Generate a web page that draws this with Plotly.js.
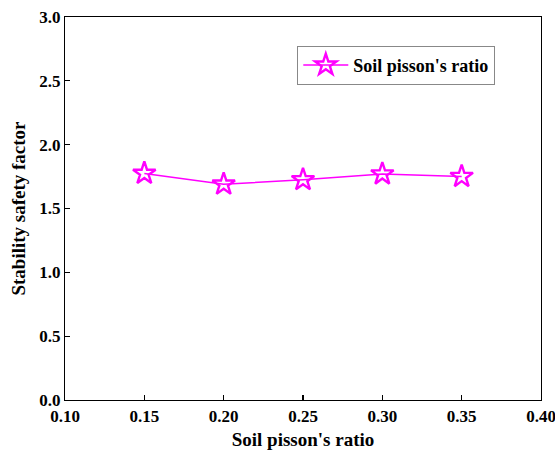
<!DOCTYPE html>
<html><head><meta charset="utf-8">
<script src="https://cdn.plot.ly/plotly-3.0.1.min.js"></script>
<style>html,body{margin:0;padding:0;background:#fff;}#chart{width:555px;height:455px;}</style>
</head><body><div id="chart"></div>
<script>
const ratios = [0.15, 0.20, 0.25, 0.30, 0.35];
const safety = [1.775, 1.69, 1.725, 1.77, 1.75];
const seriesName = "Soil pisson's ratio";
const xTickVals = [0.10, 0.15, 0.20, 0.25, 0.30, 0.35, 0.40];
const xTickText = ["0.10", "0.15", "0.20", "0.25", "0.30", "0.35", "0.40"];
const yTickVals = [0, 0.5, 1.0, 1.5, 2.0, 2.5, 3.0];
const yTickText = ["0.0", "0.5", "1.0", "1.5", "2.0", "2.5", "3.0"];

const fam = "'Liberation Serif', 'Times New Roman', serif";
function f(size) { return {family: fam, size: size, color: "#000", weight: 700}; }
Plotly.newPlot("chart", [{
  x: ratios, y: safety, name: seriesName, type: "scatter", mode: "lines+markers",
  line: {color: "#FF00FF", width: 1.5},
  marker: {symbol: "star-open", size: 17, color: "#FF00FF", line: {color: "#FF00FF", width: 2.4}}
}], {
  width: 555, height: 455,
  margin: {l: 65, r: 14, t: 17, b: 55},
  paper_bgcolor: "#fff", plot_bgcolor: "#fff",
  showlegend: true,
  legend: {x: 0.488, y: 0.925, xanchor: "left", yanchor: "top", bgcolor: "#fff",
    bordercolor: "#888", borderwidth: 1, itemwidth: 45, font: f(18), tracegroupgap: 0},
  xaxis: {range: [0.10, 0.40], tickvals: xTickVals, ticktext: xTickText,
    ticks: "inside", ticklen: 5, tickwidth: 1.2, tickcolor: "#000", ticklabeloverflow: "allow",
    showline: true, linecolor: "#000", linewidth: 1.2, mirror: true, showgrid: false, zeroline: false,
    tickfont: f(17),
    title: {text: "Soil pisson's ratio", standoff: 8, font: f(19)}},
  yaxis: {range: [0, 3.0], tickvals: yTickVals, ticktext: yTickText,
    ticks: "inside", ticklen: 5, tickwidth: 1.2, tickcolor: "#000", ticklabeloverflow: "allow",
    showline: true, linecolor: "#000", linewidth: 1.2, mirror: true, showgrid: false, zeroline: false,
    tickfont: f(17),
    title: {text: "Stability safety factor", standoff: 8, font: f(19)}}
}, {displayModeBar: false, staticPlot: true});
</script></body></html>
